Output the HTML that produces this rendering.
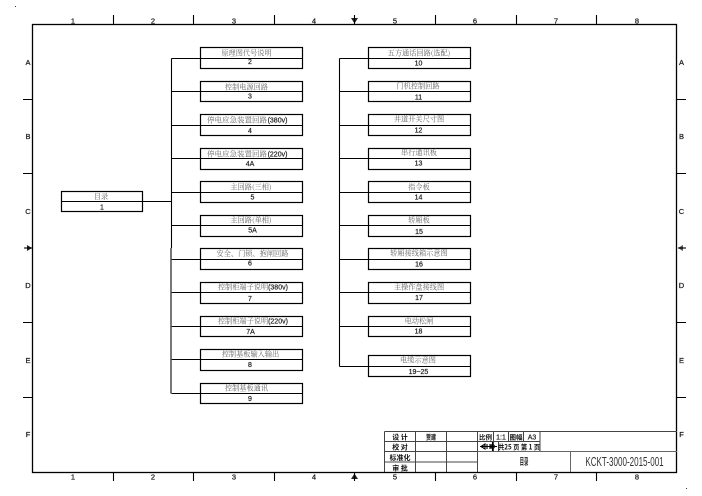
<!DOCTYPE html>
<html lang="zh"><head><meta charset="utf-8"><title>目录</title>
<style>
html,body{margin:0;padding:0;background:#fff;width:702px;height:496px;overflow:hidden}
svg{display:block}
.l{stroke:#000;stroke-width:1.1;fill:none}
.b{fill:none;stroke:#000;stroke-width:1.2}
.g{stroke:#444;stroke-width:1;fill:none}
.g2{stroke:#666;stroke-width:1;fill:none}
text{text-anchor:middle}
.c{font:7.2px "Noto Serif CJK SC","Liberation Serif",serif;fill:#666}
.n{font:7px "Liberation Sans","DejaVu Sans",sans-serif;fill:#222;stroke:#222;stroke-width:.2}
.m{font:7.500px "Liberation Sans","DejaVu Sans",sans-serif;fill:#222;stroke:#222;stroke-width:.25}
.t{font:bold 7px "Noto Sans CJK SC","Liberation Sans",sans-serif;fill:#111}
.v{font:7px "Liberation Sans","Noto Sans CJK SC",sans-serif;fill:#222;stroke:#222;stroke-width:.2}
</style></head><body>
<svg width="702" height="496" viewBox="0 0 702 496" xmlns="http://www.w3.org/2000/svg">
<rect x="32.500" y="24.500" width="644" height="448" class="l" style="stroke-width:1.3"/>
<path class="l" d="M113.500 15V24M193.500 15V24M274.500 15V24M435.500 15V24M516.500 15V24M596.500 15V24M113.500 472V481M193.500 472V481M274.500 472V481M435.500 472V481M516.500 472V481M596.500 472V481M23 99.500H32M23 173.500H32M23 322.500H32M23 397.500H32M677 99.500H686M677 173.500H686M677 322.500H686M677 397.500H686"/>
<!-- centre marks -->
<path d="M351 18H358L354.500 23.500Z" fill="#222"/><path class="l" d="M354.500 15V24"/>
<path d="M351 479H358L354.500 473.500Z" fill="#222"/><path class="l" d="M354.500 472V481"/>
<path d="M27 245V251L32 248Z" fill="#222"/><path class="l" d="M24 248H32"/>
<path d="M683 245V251L678 248Z" fill="#555"/><path class="l" d="M678 248H686"/>
<g class="m">
<text x="73" y="23.500">1</text><text x="153" y="23.500">2</text><text x="234" y="23.500">3</text><text x="314" y="23.500">4</text><text x="395" y="23.500">5</text><text x="475" y="23.500">6</text><text x="556" y="23.500">7</text><text x="637" y="23.500">8</text>
<text x="73" y="479.500">1</text><text x="153" y="479.500">2</text><text x="234" y="479.500">3</text><text x="314" y="479.500">4</text><text x="395" y="479.500">5</text><text x="475" y="479.500">6</text><text x="556" y="479.500">7</text><text x="637" y="479.500">8</text>
<text x="28" y="65">A</text><text x="28" y="139">B</text><text x="28" y="214">C</text><text x="28" y="288">D</text><text x="28" y="363">E</text><text x="28" y="437">F</text>
<text x="681.500" y="65">A</text><text x="681.500" y="139">B</text><text x="681.500" y="214">C</text><text x="681.500" y="288">D</text><text x="681.500" y="363">E</text><text x="681.500" y="437">F</text>
</g>
<!-- trunks -->
<path class="l" d="M171.500 58.500V248M142 201.500H171.500"/>
<path d="M171 248V393.500" stroke="#777" stroke-width="2" fill="none"/>
<path class="l" d="M339.500 58.500V366.500"/>
<path class="l" d="M171.500 58.500H200M171.500 91.500H200M171.500 125.500H200M171.500 158.500H200M171.500 192.500H200M171.500 225.500H200M171.500 259.500H200M171.500 292.500H200M171.500 326.500H200M171.500 359.500H200M171.500 393.500H200"/>
<path class="l" d="M339.500 58.500H368M339.500 91.500H368M339.500 125.500H368M339.500 158.500H368M339.500 192.500H368M339.500 225.500H368M339.500 259.500H368M339.500 292.500H368M339.500 326.500H368M339.500 366.500H368"/>
<!-- root -->
<rect class="b" x="61.500" y="191.500" width="81" height="20"/><path class="l" d="M61.500 201.500H142.500"/>
<text class="c" x="101" y="199">目录</text><text class="n" x="102" y="209.500">1</text>
<!-- left boxes -->
<g>
<rect class="b" x="200.500" y="47.500" width="102" height="21"/><path class="l" d="M200 58.500H302"/>
<rect class="b" x="200.500" y="81.500" width="102" height="20"/><path class="l" d="M200 91.500H302"/>
<rect class="b" x="200.500" y="114.500" width="102" height="21"/><path class="l" d="M200 125.500H302"/>
<rect class="b" x="200.500" y="148.500" width="102" height="21"/><path class="l" d="M200 158.500H302"/>
<rect class="b" x="200.500" y="181.500" width="102" height="21"/><path class="l" d="M200 192.500H302"/>
<rect class="b" x="200.500" y="215.500" width="102" height="21"/><path class="l" d="M200 225.500H302"/>
<rect class="b" x="200.500" y="248.500" width="102" height="21"/><path class="l" d="M200 259.500H302"/>
<rect class="b" x="200.500" y="282.500" width="102" height="21"/><path class="l" d="M200 292.500H302"/>
<rect class="b" x="200.500" y="316.500" width="102" height="20"/><path class="l" d="M200 326.500H302"/>
<rect class="b" x="200.500" y="349.500" width="102" height="21"/><path class="l" d="M200 359.500H302"/>
<rect class="b" x="200.500" y="383.500" width="102" height="20"/><path class="l" d="M200 393.500H302"/>
</g>
<!-- right boxes -->
<g>
<rect class="b" x="368.500" y="47.500" width="102" height="21"/><path class="l" d="M368 58.500H470"/>
<rect class="b" x="368.500" y="81.500" width="102" height="20"/><path class="l" d="M368 91.500H470"/>
<rect class="b" x="368.500" y="114.500" width="102" height="21"/><path class="l" d="M368 125.500H470"/>
<rect class="b" x="368.500" y="148.500" width="102" height="21"/><path class="l" d="M368 158.500H470"/>
<rect class="b" x="368.500" y="181.500" width="102" height="21"/><path class="l" d="M368 192.500H470"/>
<rect class="b" x="368.500" y="215.500" width="102" height="21"/><path class="l" d="M368 225.500H470"/>
<rect class="b" x="368.500" y="248.500" width="102" height="21"/><path class="l" d="M368 259.500H470"/>
<rect class="b" x="368.500" y="282.500" width="102" height="21"/><path class="l" d="M368 292.500H470"/>
<rect class="b" x="368.500" y="316.500" width="102" height="20"/><path class="l" d="M368 326.500H470"/>
<rect class="b" x="368.500" y="355.500" width="102" height="21"/><path class="l" d="M368 366.500H470"/>
</g>
<!-- left labels -->
<g class="c">
<text x="246.500" y="55.500">原理图代号说明</text>
<text x="246.500" y="89.500">控制电源回路</text>
<text x="237" y="122.500" style="font-size:7.500px">停电应急装置回路</text>
<text x="237" y="156.500" style="font-size:7.500px">停电应急装置回路</text>
<text x="251" y="189.500">主回路(三相)</text>
<text x="251" y="222.500">主回路(单相)</text>
<text x="252.500" y="256">安全、门锁、抱闸回路</text>
<text x="243" y="289.500">控制柜端子说明</text>
<text x="243" y="323.500">控制柜端子说明</text>
<text x="250.500" y="356.500">控制基板输入输出</text>
<text x="246.500" y="390.500">控制基板通讯</text>
</g>
<g class="n">
<text x="277.500" y="122.500">(380v)</text>
<text x="277.500" y="156.500">(220v)</text>
<text x="278" y="289.500">(380v)</text>
<text x="278" y="323.500">(220v)</text>
<text x="250" y="64">2</text><text x="250" y="98.500">3</text><text x="250" y="133">4</text><text x="250" y="166">4A</text>
<text x="252.500" y="199.500">5</text><text x="252.500" y="232.500">5A</text><text x="250" y="265.500">6</text><text x="250" y="301">7</text>
<text x="250.500" y="334">7A</text><text x="250" y="367">8</text><text x="250" y="401">9</text>
</g>
<!-- right labels -->
<g class="c">
<text x="419" y="55.500">五方通话回路(选配)</text>
<text x="418" y="88.500">门机控制回路</text>
<text x="419" y="121.500">井道开关尺寸图</text>
<text x="419" y="155">串行通讯板</text>
<text x="419" y="189.500">指令板</text>
<text x="419" y="222.500">轿厢板</text>
<text x="419" y="255.500">轿厢接线箱示意图</text>
<text x="419" y="289.500">主操作盘接线图</text>
<text x="419" y="323.500">电动松闸</text>
<text x="418" y="362.500">电缆示意图</text>
</g>
<g class="n">
<text x="418.500" y="65.500">10</text><text x="418.500" y="99.500">11</text><text x="418.500" y="132.500">12</text><text x="418.500" y="165.500">13</text>
<text x="418.500" y="199.500">14</text><text x="419" y="234">15</text><text x="419" y="266.500">16</text><text x="419" y="300">17</text>
<text x="418.500" y="333.500">18</text><text x="418.500" y="374">19~25</text>
</g>
<!-- title block -->
<path class="g" d="M384.500 431.500H677M384.500 431.500V472M384.500 441.500H540M384.500 451.500H477.500M384.500 462H477.500M415.500 431.500V472M446.500 431.500V472M477.500 431.500V472M540 431.500V451.500"/>
<path class="g2" d="M477.500 451.500H677M570.500 451.500V472"/>
<path class="g" d="M493.500 431.500V451.500M508.500 431.500V441.500M523.500 431.500V441.500M498.500 441.500V451.500"/>
<g class="t">
<text x="400" y="439.500">设  计</text><text x="400" y="449.500">校  对</text><text x="400" y="460">标准化</text><text x="400" y="470.500">审  批</text>
<text transform="translate(431 439.500) scale(.72 1)">贾建</text>
<text x="485.500" y="439.500" style="font-size:6.500px">比例</text>
<text x="501" y="439.500" class="v">1:1</text>
<text x="516" y="439.500" style="font-size:6.500px">图幅</text>
<text x="532" y="439.500" class="v">A3</text>
<text transform="translate(519 449.500) scale(.9 1)" style="font-size:7px">共25 页 第 1 页</text>
<text transform="translate(524 465) scale(.55 1.2)" style="font-size:8px;fill:#333">目录</text>
</g>
<path class="l" d="M480 446.500H491M481 446.500L485 444V449ZM487 444V449M490 444V449"/>
<circle cx="492.500" cy="446.500" r="2.500" fill="#222"/><path class="l" d="M488 446.500H497M492.500 442V451"/>
<text transform="translate(624.500 466) scale(.62 1)" style="font:13px 'Liberation Sans',sans-serif;fill:#333">KCKT-3000-2015-001</text>
<rect x="15" y="6" width="1" height="1" fill="#333"/><rect x="686" y="488" width="1" height="1" fill="#333"/>
</svg>
</body></html>
